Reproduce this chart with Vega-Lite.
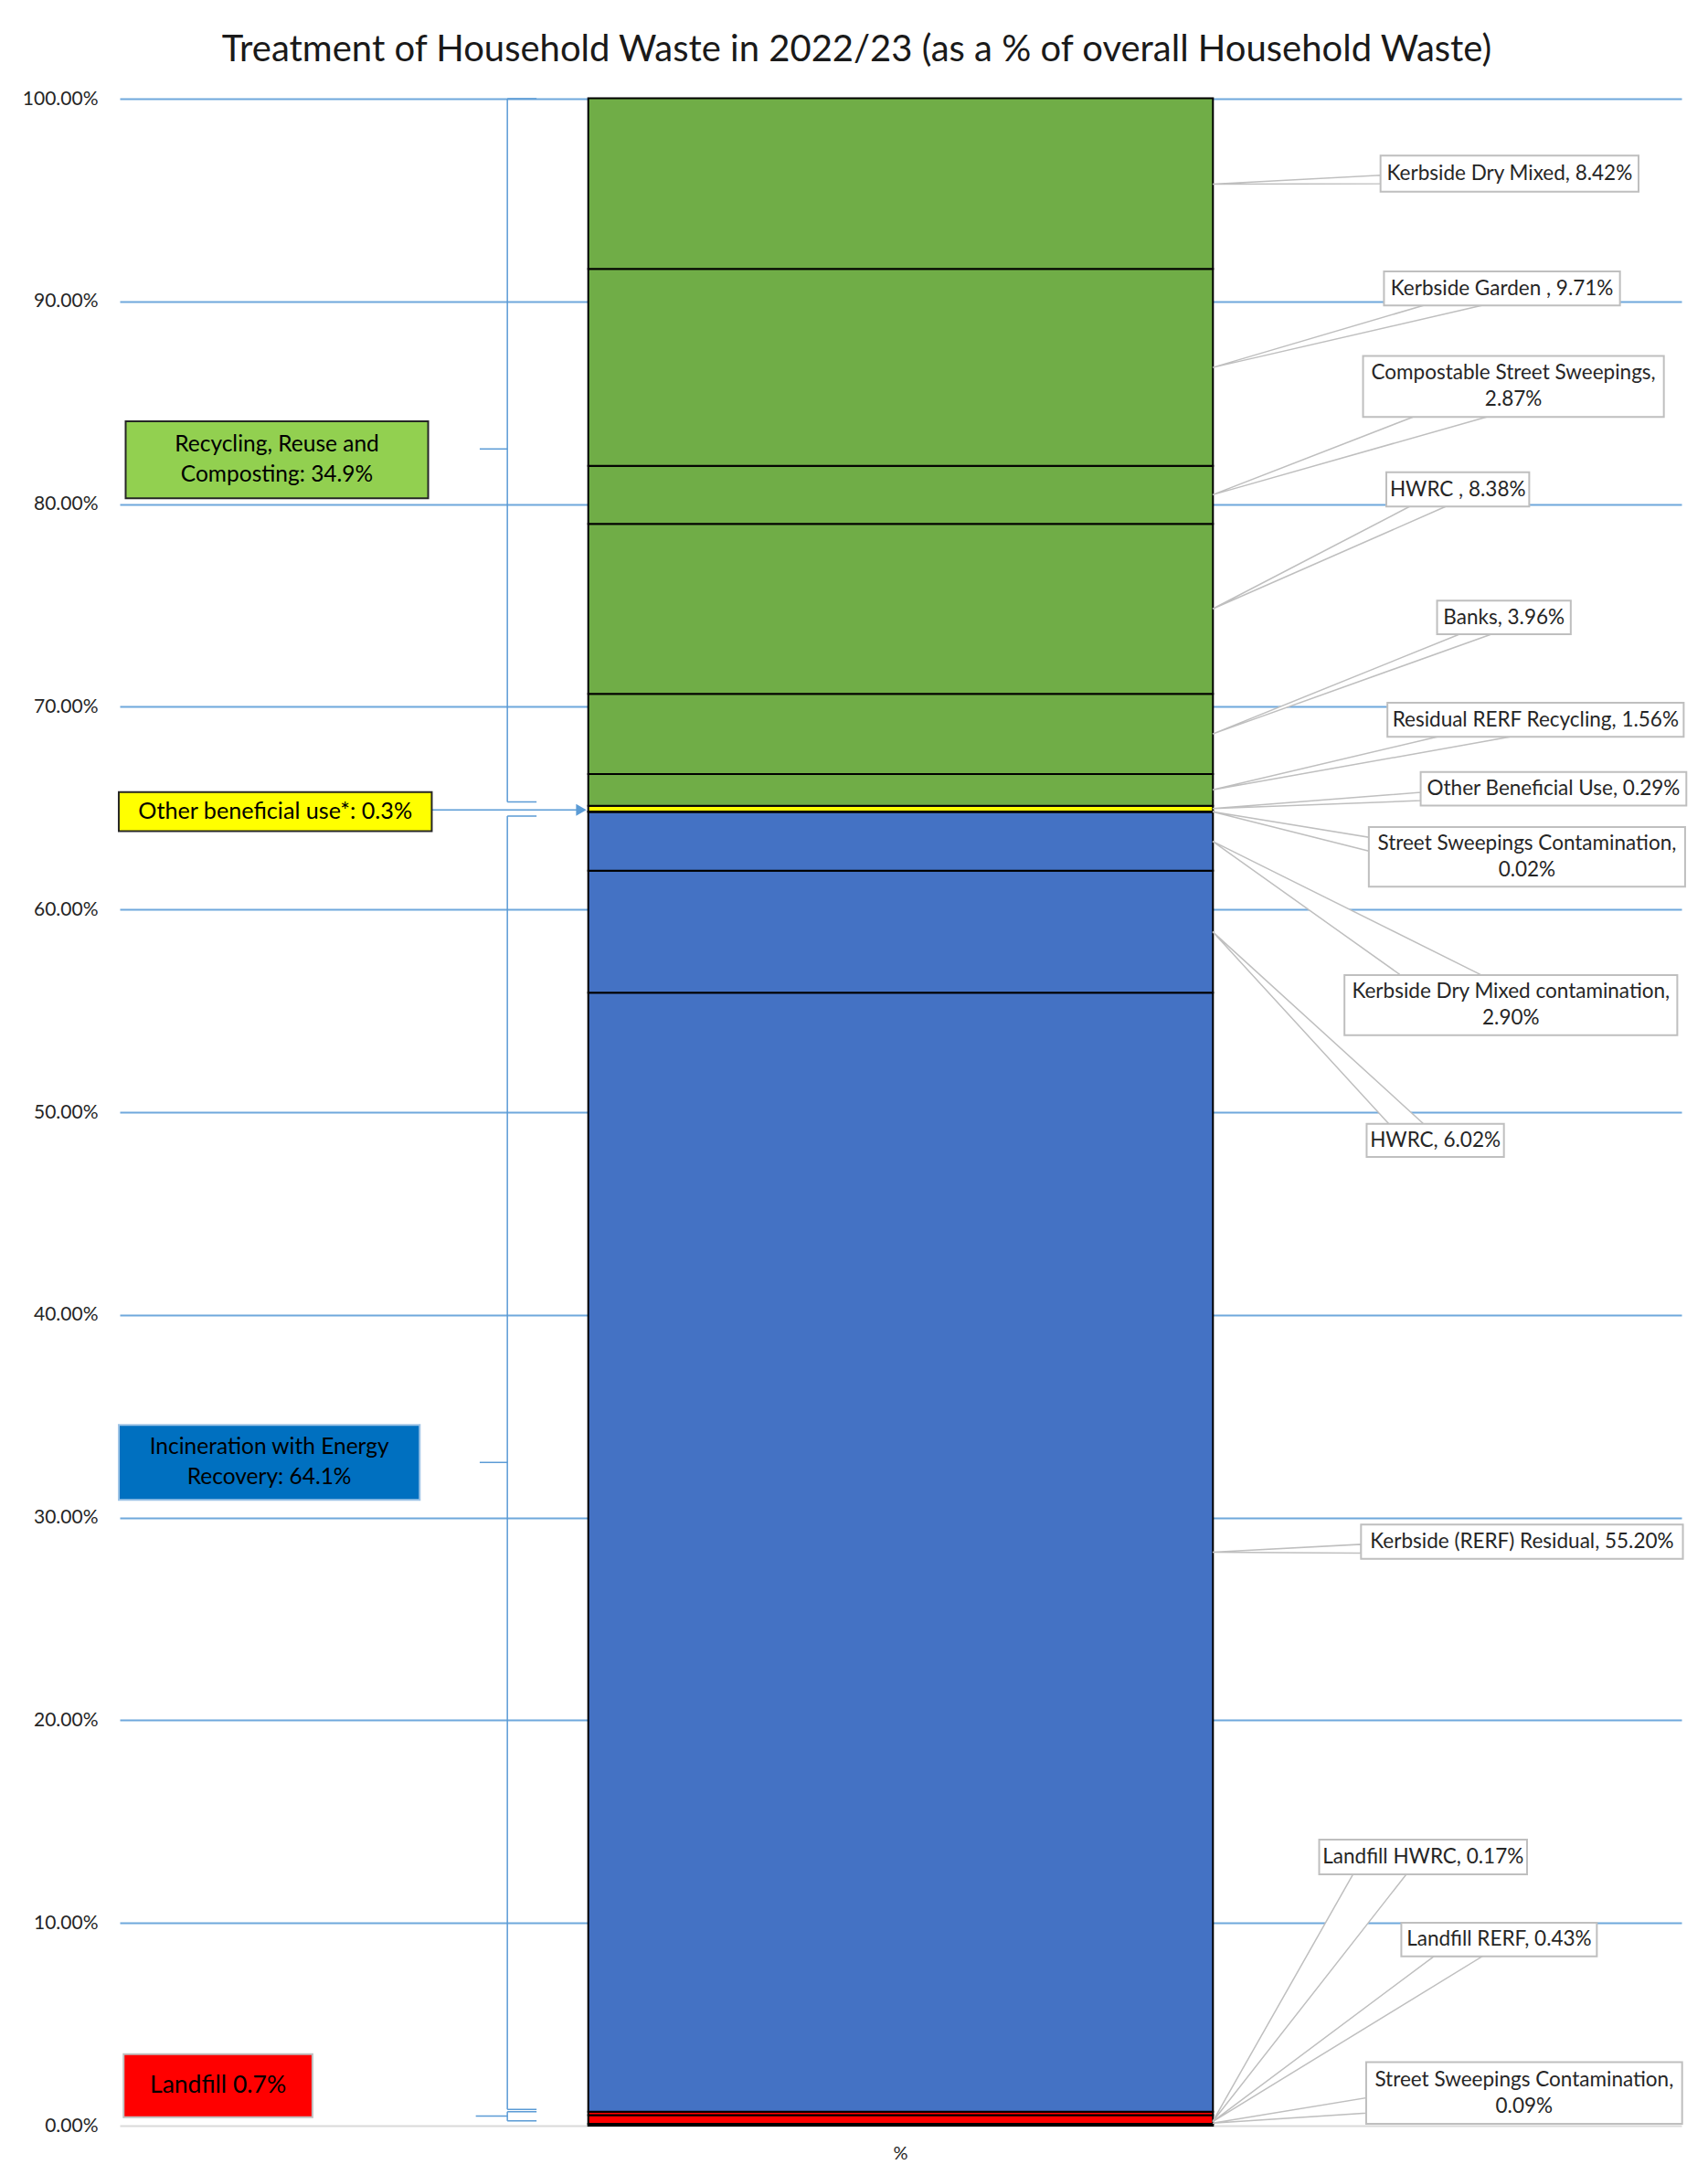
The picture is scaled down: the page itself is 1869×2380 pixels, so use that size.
{
  "$schema": "https://vega.github.io/schema/vega-lite/v6.json",
  "width": 1709,
  "height": 2218,
  "autosize": {"type": "none"},
  "padding": {"left": 131, "top": 108, "right": 29, "bottom": 54},
  "background": "white",
  "config": {"view": {"stroke": null}, "font": "Lato"},
  "title": {
    "text": "Treatment of Household Waste in 2022/23 (as a % of overall Household Waste)",
    "fontSize": 40, "font": "Lato", "fontWeight": "normal", "color": "#1a1a1a",
    "anchor": "middle", "frame": "group", "offset": -10, "baseline": "alphabetic", "dx": -48
  },
  "datasets": {
    "segments": [
      {"name": "Street Sweepings Contamination", "group": "Landfill", "value": 0.09, "ord": 1},
      {"name": "Landfill RERF", "group": "Landfill", "value": 0.43, "ord": 2},
      {"name": "Landfill HWRC", "group": "Landfill", "value": 0.17, "ord": 3},
      {"name": "Kerbside (RERF) Residual", "group": "Incineration", "value": 55.20, "ord": 4},
      {"name": "HWRC", "group": "Incineration", "value": 6.02, "ord": 5},
      {"name": "Kerbside Dry Mixed contamination", "group": "Incineration", "value": 2.90, "ord": 6},
      {"name": "Street Sweepings Contamination", "group": "Incineration", "value": 0.02, "ord": 7},
      {"name": "Other Beneficial Use", "group": "Other", "value": 0.29, "ord": 8},
      {"name": "Residual RERF Recycling", "group": "Recycling", "value": 1.56, "ord": 9},
      {"name": "Banks", "group": "Recycling", "value": 3.96, "ord": 10},
      {"name": "HWRC", "group": "Recycling", "value": 8.38, "ord": 11},
      {"name": "Compostable Street Sweepings", "group": "Recycling", "value": 2.87, "ord": 12},
      {"name": "Kerbside Garden", "group": "Recycling", "value": 9.71, "ord": 13},
      {"name": "Kerbside Dry Mixed", "group": "Recycling", "value": 8.42, "ord": 14}
    ],
    "brackets": [
      {"x": 24.82, "x2": 24.82, "y": 100, "y2": 65.31},
      {"x": 24.82, "x2": 26.69, "y": 100, "y2": 100},
      {"x": 24.82, "x2": 26.69, "y": 65.31, "y2": 65.31},
      {"x": 23.05, "x2": 24.82, "y": 82.72, "y2": 82.72},
      {"x": 24.82, "x2": 24.82, "y": 64.61, "y2": 0.80},
      {"x": 24.82, "x2": 26.69, "y": 64.61, "y2": 64.61},
      {"x": 24.82, "x2": 26.69, "y": 0.80, "y2": 0.80},
      {"x": 23.05, "x2": 24.82, "y": 32.72, "y2": 32.72},
      {"x": 24.82, "x2": 24.82, "y": 0.69, "y2": 0.24},
      {"x": 24.82, "x2": 26.69, "y": 0.69, "y2": 0.69},
      {"x": 24.82, "x2": 26.69, "y": 0.24, "y2": 0.24},
      {"x": 22.80, "x2": 24.82, "y": 0.47, "y2": 0.47},
      {"x": 19.98, "x2": 29.3, "y": 64.91, "y2": 64.91}
    ],
    "arrowhead": [{"x": 29.55, "y": 64.91}],
    "sideWedges": [
      {"id": "kdm", "wx": 69.98, "wy": 95.79, "wy2": 95.79},
      {"id": "kdm", "wx": 80.73, "wy": 96.22, "wy2": 95.81},
      {"id": "obu", "wx": 69.98, "wy": 64.98, "wy2": 64.98},
      {"id": "obu", "wx": 83.30, "wy": 65.78, "wy2": 65.37},
      {"id": "ssc2", "wx": 69.98, "wy": 64.82, "wy2": 64.82},
      {"id": "ssc2", "wx": 79.98, "wy": 63.56, "wy2": 62.88},
      {"id": "krr", "wx": 69.98, "wy": 28.29, "wy2": 28.29},
      {"id": "krr", "wx": 79.48, "wy": 28.68, "wy2": 28.25},
      {"id": "ssc9", "wx": 69.98, "wy": 0.12, "wy2": 0.12},
      {"id": "ssc9", "wx": 79.81, "wy": 1.37, "wy2": 0.62}
    ],
    "flatWedges": [
      {"id": "kg", "wy": 86.74, "wx": 69.98, "wx2": 69.98},
      {"id": "kg", "wy": 89.80, "wx": 83.48, "wx2": 87.21},
      {"id": "css", "wy": 80.46, "wx": 69.98, "wx2": 69.98},
      {"id": "css", "wy": 84.30, "wx": 82.82, "wx2": 87.53},
      {"id": "hwrc8", "wy": 74.83, "wx": 69.98, "wx2": 69.98},
      {"id": "hwrc8", "wy": 79.88, "wx": 82.59, "wx2": 84.90},
      {"id": "banks", "wy": 68.66, "wx": 69.98, "wx2": 69.98},
      {"id": "banks", "wy": 73.58, "wx": 85.79, "wx2": 87.83},
      {"id": "rrr", "wy": 65.90, "wx": 69.98, "wx2": 69.98},
      {"id": "rrr", "wy": 68.52, "wx": 84.37, "wx2": 89.03},
      {"id": "kdmc", "wy": 63.36, "wx": 69.98, "wx2": 69.98},
      {"id": "kdmc", "wy": 56.76, "wx": 82.02, "wx2": 87.21},
      {"id": "hwrc6", "wy": 58.90, "wx": 69.98, "wx2": 69.98},
      {"id": "hwrc6", "wy": 49.43, "wx": 81.26, "wx2": 83.48},
      {"id": "lhwrc", "wy": 0.20, "wx": 69.98, "wx2": 69.98},
      {"id": "lhwrc", "wy": 12.40, "wx": 78.97, "wx2": 82.38},
      {"id": "lrerf", "wy": 0.20, "wx": 69.98, "wx2": 69.98},
      {"id": "lrerf", "wy": 8.35, "wx": 84.14, "wx2": 87.24}
    ],
    "callouts": [
      {"label": "Kerbside Dry Mixed, 8.42%", "x1": 80.73, "x2": 97.25, "y1": 97.19, "y2": 95.41},
      {"label": "Kerbside Garden , 9.71%", "x1": 80.95, "x2": 96.06, "y1": 91.48, "y2": 89.80},
      {"label": ["Compostable Street Sweepings,", "2.87%"], "x1": 79.61, "x2": 98.87, "y1": 87.31, "y2": 84.30},
      {"label": "HWRC , 8.38%", "x1": 81.10, "x2": 90.25, "y1": 81.57, "y2": 79.88},
      {"label": "Banks, 3.96%", "x1": 84.35, "x2": 92.91, "y1": 75.24, "y2": 73.58},
      {"label": "Residual RERF Recycling, 1.56%", "x1": 81.17, "x2": 100.14, "y1": 70.20, "y2": 68.52},
      {"label": "Other Beneficial Use, 0.29%", "x1": 83.30, "x2": 100.31, "y1": 66.78, "y2": 65.13},
      {"label": ["Street Sweepings Contamination,", "0.02%"], "x1": 79.98, "x2": 100.23, "y1": 64.07, "y2": 61.12},
      {"label": ["Kerbside Dry Mixed contamination,", "2.90%"], "x1": 78.42, "x2": 99.73, "y1": 56.76, "y2": 53.80},
      {"label": "HWRC, 6.02%", "x1": 79.84, "x2": 88.63, "y1": 49.43, "y2": 47.79},
      {"label": "Kerbside  (RERF) Residual, 55.20%", "x1": 79.48, "x2": 100.09, "y1": 29.65, "y2": 27.97},
      {"label": "Landfill HWRC, 0.17%", "x1": 76.80, "x2": 90.11, "y1": 14.11, "y2": 12.40},
      {"label": "Landfill RERF, 0.43%", "x1": 82.06, "x2": 94.58, "y1": 10.01, "y2": 8.35},
      {"label": ["Street Sweepings Contamination,", "0.09%"], "x1": 79.81, "x2": 100.04, "y1": 3.13, "y2": 0.09}
    ],
    "summary": [
      {"label": ["Recycling, Reuse and", "Composting: 34.9%"], "group": "Recycling", "x1": 0.38, "x2": 19.75, "y1": 84.08, "y2": 80.29},
      {"label": "Other beneficial use*: 0.3%", "group": "Other", "x1": -0.06, "x2": 19.98, "y1": 65.79, "y2": 63.86},
      {"label": ["Incineration with Energy", "Recovery: 64.1%"], "group": "Incineration", "x1": -0.06, "x2": 19.21, "y1": 34.57, "y2": 30.87},
      {"label": "Landfill 0.7%", "group": "Landfill", "x1": 0.25, "x2": 12.34, "y1": 3.53, "y2": 0.42}
    ]
  },
  "resolve": {
    "scale": {"x": "independent", "color": "independent", "stroke": "independent", "size": "independent"},
    "axis": {"x": "independent"}
  },
  "layer": [
    {
      "data": {"name": "segments"},
      "mark": {"type": "bar", "stroke": "#000000", "strokeWidth": 2},
      "encoding": {
        "x": {
          "datum": "%", "type": "nominal",
          "scale": {"paddingOuter": 0.75, "paddingInner": 0},
          "axis": {"title": null, "ticks": false, "domain": false, "labelFontSize": 20, "labelPadding": 20, "labelColor": "#262626", "labelAngle": 0}
        },
        "y": {
          "field": "value", "type": "quantitative", "stack": "zero",
          "scale": {"domain": [0, 100], "nice": false, "zero": true},
          "axis": {
            "title": null, "values": [0, 10, 20, 30, 40, 50, 60, 70, 80, 90, 100],
            "labelExpr": "format(datum.value, '.2f') + '%'",
            "labelFontSize": 21, "labelPadding": 24, "labelColor": "#262626",
            "ticks": false, "domain": false, "grid": true,
            "gridColor": {"condition": {"test": "datum.value === 0", "value": "#d9d9d9"}, "value": "#6fa8dc"},
            "gridWidth": 2
          }
        },
        "color": {
          "field": "group", "type": "nominal",
          "scale": {"domain": ["Landfill", "Incineration", "Other", "Recycling"], "range": ["#ff0000", "#4472c4", "#ffff00", "#70ad47"]},
          "legend": null
        },
        "order": {"field": "ord", "type": "quantitative"}
      }
    },
    {
      "data": {"name": "brackets"},
      "mark": {"type": "rule", "color": "#5b9bd5", "strokeWidth": 1.5},
      "encoding": {
        "x": {"field": "x", "type": "quantitative", "scale": {"domain": [0, 100], "nice": false, "zero": false}, "axis": null},
        "x2": {"field": "x2"},
        "y": {"field": "y", "type": "quantitative", "scale": {"domain": [0, 100], "nice": false}},
        "y2": {"field": "y2"}
      }
    },
    {
      "data": {"name": "arrowhead"},
      "mark": {"type": "point", "shape": "triangle-right", "filled": true, "color": "#5b9bd5", "size": 170, "opacity": 1},
      "encoding": {
        "x": {"field": "x", "type": "quantitative", "scale": {"domain": [0, 100], "nice": false, "zero": false}, "axis": null},
        "y": {"field": "y", "type": "quantitative", "scale": {"domain": [0, 100], "nice": false}}
      }
    },
    {
      "data": {"name": "sideWedges"},
      "mark": {"type": "area", "orient": "vertical", "fill": "#ffffff", "stroke": "#bfbfbf", "strokeWidth": 1.5, "opacity": 1},
      "encoding": {
        "x": {"field": "wx", "type": "quantitative", "scale": {"domain": [0, 100], "nice": false, "zero": false}, "axis": null},
        "y": {"field": "wy", "type": "quantitative", "stack": null, "scale": {"domain": [0, 100], "nice": false}},
        "y2": {"field": "wy2"},
        "detail": {"field": "id", "type": "nominal"}
      }
    },
    {
      "data": {"name": "flatWedges"},
      "mark": {"type": "area", "orient": "horizontal", "fill": "#ffffff", "stroke": "#bfbfbf", "strokeWidth": 1.5, "opacity": 1},
      "encoding": {
        "y": {"field": "wy", "type": "quantitative", "scale": {"domain": [0, 100], "nice": false}},
        "x": {"field": "wx", "type": "quantitative", "stack": null, "scale": {"domain": [0, 100], "nice": false, "zero": false}, "axis": null},
        "x2": {"field": "wx2"},
        "detail": {"field": "id", "type": "nominal"}
      }
    },
    {
      "data": {"name": "callouts"},
      "mark": {"type": "rect", "fill": "#ffffff", "stroke": "#bfbfbf", "strokeWidth": 2},
      "encoding": {
        "x": {"field": "x1", "type": "quantitative", "scale": {"domain": [0, 100], "nice": false, "zero": false}, "axis": null},
        "x2": {"field": "x2"},
        "y": {"field": "y1", "type": "quantitative", "scale": {"domain": [0, 100], "nice": false}},
        "y2": {"field": "y2"}
      }
    },
    {
      "data": {"name": "callouts"},
      "transform": [
        {"filter": "!isArray(datum.label)"},
        {"calculate": "(datum.x1 + datum.x2) / 2", "as": "tx"},
        {"calculate": "(datum.y1 + datum.y2) / 2", "as": "ty"}
      ],
      "mark": {"type": "text", "fontSize": 22.5, "font": "Lato", "color": "#262626", "align": "center", "baseline": "middle"},
      "encoding": {
        "x": {"field": "tx", "type": "quantitative", "scale": {"domain": [0, 100], "nice": false, "zero": false}, "axis": null},
        "y": {"field": "ty", "type": "quantitative", "scale": {"domain": [0, 100], "nice": false}},
        "text": {"field": "label"}
      }
    },
    {
      "data": {"name": "callouts"},
      "transform": [
        {"filter": "isArray(datum.label)"},
        {"calculate": "(datum.x1 + datum.x2) / 2", "as": "tx"},
        {"calculate": "(datum.y1 + datum.y2) / 2", "as": "ty"}
      ],
      "mark": {"type": "text", "fontSize": 22.5, "font": "Lato", "color": "#262626", "align": "center", "baseline": "middle", "lineHeight": 29, "dy": -14.5},
      "encoding": {
        "x": {"field": "tx", "type": "quantitative", "scale": {"domain": [0, 100], "nice": false, "zero": false}, "axis": null},
        "y": {"field": "ty", "type": "quantitative", "scale": {"domain": [0, 100], "nice": false}},
        "text": {"field": "label"}
      }
    },
    {
      "data": {"name": "summary"},
      "mark": {"type": "rect", "strokeWidth": 2, "opacity": 1},
      "encoding": {
        "x": {"field": "x1", "type": "quantitative", "scale": {"domain": [0, 100], "nice": false, "zero": false}, "axis": null},
        "x2": {"field": "x2"},
        "y": {"field": "y1", "type": "quantitative", "scale": {"domain": [0, 100], "nice": false}},
        "y2": {"field": "y2"},
        "fill": {
          "field": "group", "type": "nominal",
          "scale": {"domain": ["Landfill", "Incineration", "Other", "Recycling"], "range": ["#ff0000", "#0070c0", "#ffff00", "#92d050"]},
          "legend": null
        },
        "stroke": {
          "field": "group", "type": "nominal",
          "scale": {"domain": ["Landfill", "Incineration", "Other", "Recycling"], "range": ["#bfbfbf", "#9dc3e6", "#262626", "#262626"]},
          "legend": null
        }
      }
    },
    {
      "data": {"name": "summary"},
      "transform": [
        {"filter": "!isArray(datum.label)"},
        {"calculate": "(datum.x1 + datum.x2) / 2", "as": "tx"},
        {"calculate": "(datum.y1 + datum.y2) / 2", "as": "ty"}
      ],
      "mark": {"type": "text", "font": "Lato", "color": "#000000", "align": "center", "baseline": "middle"},
      "encoding": {
        "x": {"field": "tx", "type": "quantitative", "scale": {"domain": [0, 100], "nice": false, "zero": false}, "axis": null},
        "y": {"field": "ty", "type": "quantitative", "scale": {"domain": [0, 100], "nice": false}},
        "text": {"field": "label"},
        "size": {
          "field": "group", "type": "nominal",
          "scale": {"domain": ["Landfill", "Incineration", "Other", "Recycling"], "range": [26.5, 24.5, 24.5, 24.5]},
          "legend": null
        }
      }
    },
    {
      "data": {"name": "summary"},
      "transform": [
        {"filter": "isArray(datum.label)"},
        {"calculate": "(datum.x1 + datum.x2) / 2", "as": "tx"},
        {"calculate": "(datum.y1 + datum.y2) / 2", "as": "ty"}
      ],
      "mark": {"type": "text", "font": "Lato", "fontSize": 24.5, "color": "#000000", "align": "center", "baseline": "middle", "lineHeight": 33, "dy": -16.5},
      "encoding": {
        "x": {"field": "tx", "type": "quantitative", "scale": {"domain": [0, 100], "nice": false, "zero": false}, "axis": null},
        "y": {"field": "ty", "type": "quantitative", "scale": {"domain": [0, 100], "nice": false}},
        "text": {"field": "label"}
      }
    }
  ]
}
